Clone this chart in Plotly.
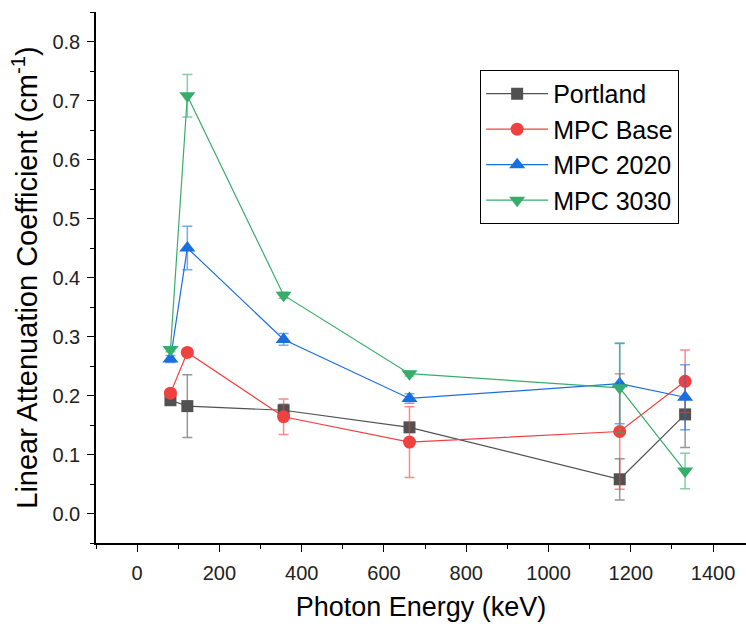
import plotly.graph_objects as go

energy = [81, 122, 356, 662, 1173, 1332]
series_names = ["Portland", "MPC Base", "MPC 2020", "MPC 3030"]
portland = [0.192, 0.182, 0.175, 0.146, 0.058, 0.168]
portland_err = [0.008, 0.053, 0.010, 0.008, 0.035, 0.056]
mpc_base = [0.204, 0.273, 0.164, 0.121, 0.139, 0.224]
mpc_base_err = [0.006, 0.006, 0.030, 0.060, 0.098, 0.053]
mpc_2020 = [0.262, 0.450, 0.295, 0.195, 0.220, 0.197]
mpc_2020_err = [0.006, 0.037, 0.010, 0.008, 0.068, 0.055]
mpc_3030 = [0.278, 0.708, 0.370, 0.237, 0.213, 0.072]
mpc_3030_err = [0.004, 0.036, 0.005, 0.004, 0.076, 0.030]

colors = ["#515151", "#F14040", "#1A6FDF", "#37AD6B"]
err_colors = ["rgba(81,81,81,0.6)", "rgba(241,64,64,0.6)", "rgba(26,111,223,0.6)", "rgba(55,173,107,0.6)"]
symbols = ["square", "circle", "triangle-up", "triangle-down"]
sizes = [12, 13, 14, 14]
values = [portland, mpc_base, mpc_2020, mpc_3030]
errors = [portland_err, mpc_base_err, mpc_2020_err, mpc_3030_err]

fig = go.Figure()
for name, y, e, c, ec, s, sz in zip(series_names, values, errors, colors, err_colors, symbols, sizes):
    fig.add_trace(go.Scatter(
        x=energy, y=y, name=name, mode="lines+markers",
        line=dict(color=c, width=1.2),
        marker=dict(color=c, symbol=s, size=sz, line=dict(width=0)),
        error_y=dict(type="data", array=e, visible=True, color=ec, thickness=1.5, width=5),
    ))

axis_common = dict(
    showline=True, linecolor="black", linewidth=1.5, mirror=False,
    ticks="outside", ticklen=7, tickwidth=1.2, tickcolor="black",
    showgrid=False, zeroline=False,
    tickfont=dict(family="Liberation Sans, Arial", size=20, color="#222"),
)

fig.update_layout(
    width=746, height=629,
    margin=dict(l=96, r=0, t=12, b=86),
    paper_bgcolor="white", plot_bgcolor="white",
    font=dict(family="Liberation Sans, Arial", color="black"),
    xaxis=dict(range=[-100, 1480], tickvals=[0, 200, 400, 600, 800, 1000, 1200, 1400],
               minor=dict(dtick=100, tick0=0, ticks="outside", ticklen=4, tickcolor="black", tickwidth=1.2),
               ticklabelstandoff=4,
               title=dict(text="Photon Energy (keV)", standoff=14,
                          font=dict(family="Liberation Sans, Arial", size=27, color="black")),
               **axis_common),
    yaxis=dict(range=[-0.05, 0.85], dtick=0.1, tick0=0, tickformat=".1f",
               minor=dict(dtick=0.05, ticks="outside", ticklen=4, tickcolor="black", tickwidth=1.2),
               ticklabelstandoff=3,
               title=dict(text="Linear Attenuation Coefficient (cm<sup>-1</sup>)", standoff=6,
                          font=dict(family="Liberation Sans, Arial", size=29, color="black")),
               **axis_common),
    legend=dict(x=0.591, y=0.891, xanchor="left", yanchor="top",
                bgcolor="white", bordercolor="black", borderwidth=1,
                font=dict(family="Liberation Sans, Arial", size=25, color="black"),
                itemwidth=62, tracegroupgap=0),
)

fig.write_html("out.html")
